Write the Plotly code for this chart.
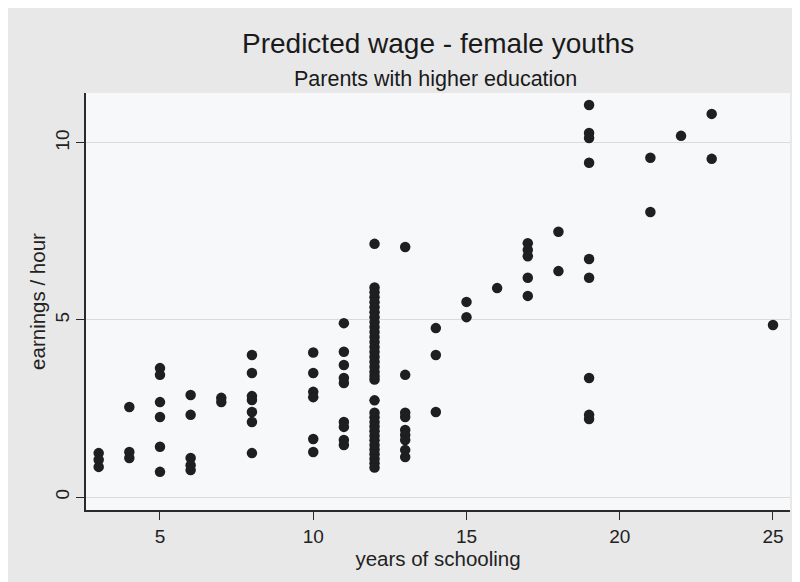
import plotly.graph_objects as go

# years of schooling and predicted hourly earnings
schooling_levels = [3, 4, 5, 6, 7, 8, 10, 11, 12, 13, 14, 15, 16, 17, 18, 19, 21, 22, 23, 25]
earnings_by_level = {
    3: [1.24, 1.05, 0.85],
    4: [2.54, 1.27, 1.10],
    5: [3.64, 3.45, 2.68, 2.26, 1.42, 0.71],
    6: [2.88, 2.32, 1.10, 0.90, 0.76],
    7: [2.80, 2.68],
    8: [4.01, 3.50, 2.85, 2.74, 2.40, 2.12, 1.24],
    10: [4.08, 3.50, 2.97, 2.82, 1.64, 1.27],
    11: [4.91, 4.10, 3.73, 3.36, 3.22, 2.12, 1.98, 1.61, 1.47],
    12: [7.15, 5.92, 5.78, 5.64, 5.50, 5.36, 5.22, 5.08, 4.94, 4.80, 4.66, 4.52,
         4.38, 4.24, 4.10, 3.96, 3.82, 3.68, 3.54, 3.42, 3.32, 2.73,
         2.38, 2.25, 2.12, 1.99, 1.86, 1.73, 1.60, 1.47, 1.34, 1.21, 1.08, 0.95, 0.83],
    13: [7.06, 3.45, 2.38, 2.26, 1.89, 1.75, 1.61, 1.33, 1.13],
    14: [4.77, 4.01, 2.40],
    15: [5.51, 5.08],
    16: [5.90],
    17: [7.17, 6.98, 6.80, 6.19, 5.68],
    18: [7.49, 6.38],
    19: [11.07, 10.28, 10.14, 9.44, 6.72, 6.19, 3.36, 2.32, 2.20],
    21: [9.58, 8.05],
    22: [10.20],
    23: [10.82, 9.55],
    25: [4.86],
}

x_ticks = [5, 10, 15, 20, 25]
y_ticks = [0, 5, 10]

title_text = "Predicted wage - female youths"
subtitle_text = "Parents with higher education"

xs, ys = [], []
for lvl in schooling_levels:
    for v in earnings_by_level[lvl]:
        xs.append(lvl)
        ys.append(v)

font_family = "Liberation Sans, Arial, sans-serif"

W, H = 792, 574
L, R, T, B = 78, 10, 85, 72
plot_w = W - L - R
plot_h = H - T - B

def px_to_paper(px, py):
    return (px - L) / plot_w, (H - B - py) / plot_h

fig = go.Figure()
fig.add_trace(go.Scatter(
    x=xs, y=ys, mode="markers",
    marker=dict(size=10.5, color="#1f1f21", line=dict(width=0)),
    showlegend=False,
))

tx, ty = px_to_paper(430, 35)
sx, sy = px_to_paper(427, 71)

fig.update_layout(
    width=W, height=H,
    paper_bgcolor="#e8e8e8",
    plot_bgcolor="#f7f8f9",
    margin=dict(l=L, r=R, t=T, b=B),
    font=dict(family=font_family, color="#222222", size=19),
    annotations=[
        dict(text=title_text, x=tx, y=ty, xref="paper", yref="paper",
             xanchor="center", yanchor="middle",
             showarrow=False, font=dict(size=28, color="#1a1a1a")),
        dict(text=subtitle_text, x=sx, y=sy, xref="paper", yref="paper",
             xanchor="center", yanchor="middle",
             showarrow=False, font=dict(size=21.5, color="#1a1a1a")),
    ],
)

fig.update_xaxes(
    range=[2.586, 25.555],
    tickvals=x_ticks, ticktext=[str(t) for t in x_ticks],
    showgrid=False, zeroline=False,
    showline=True, linecolor="#2a2a2a", linewidth=1.5,
    ticks="outside", ticklen=8, tickcolor="#2a2a2a", tickwidth=1.2,
    tickfont=dict(size=19),
    title=dict(text="years of schooling", font=dict(size=20.5), standoff=3),
)
fig.update_yaxes(
    range=[-0.367, 11.41],
    tickvals=y_ticks, ticktext=[str(t) for t in y_ticks],
    showgrid=True, gridcolor="#d9dadc", gridwidth=1,
    zeroline=False,
    showline=True, linecolor="#2a2a2a", linewidth=1.5,
    ticks="outside", ticklen=8, tickcolor="#2a2a2a", tickwidth=1.2,
    tickangle=-90,
    tickfont=dict(size=19),
    title=dict(text="earnings / hour", font=dict(size=20.5), standoff=0),
)

fig.write_html("out.html")
